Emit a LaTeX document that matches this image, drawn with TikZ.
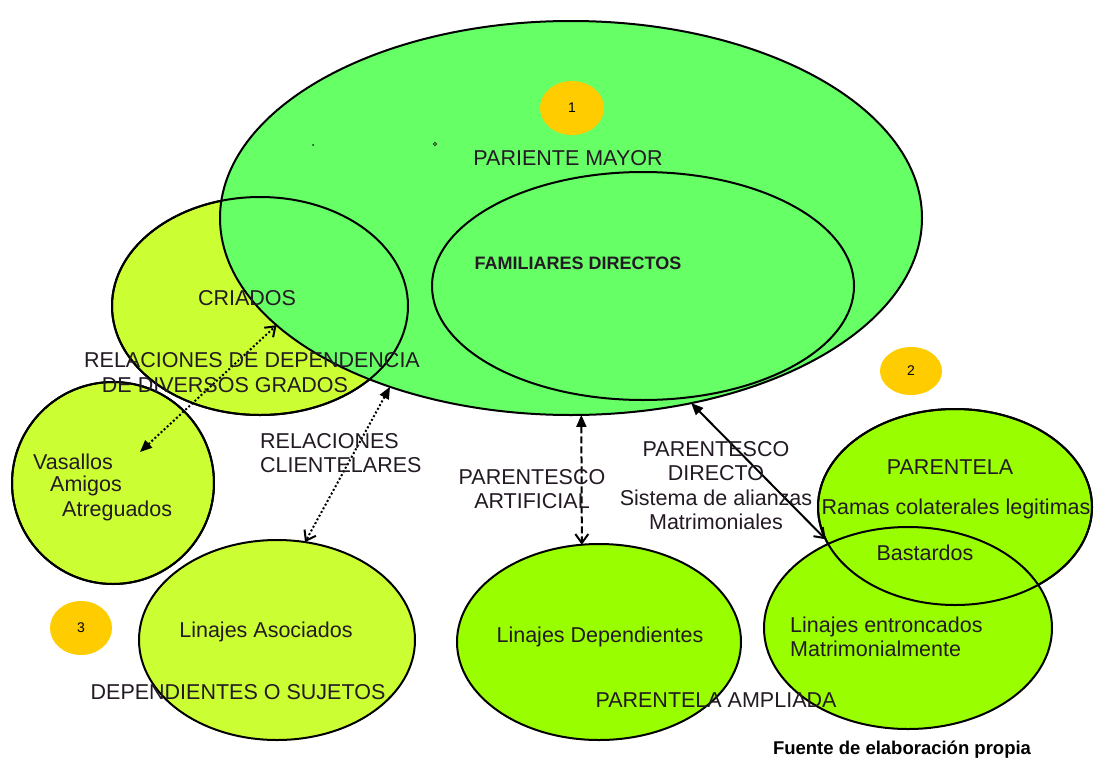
\documentclass[tikz,border=0pt]{standalone}
\usepackage{fontspec}
\setmainfont{Liberation Sans}
\usetikzlibrary{shapes.geometric,arrows.meta}
\definecolor{gbig}{HTML}{66FF66}
\definecolor{ylw}{HTML}{CCFF33}
\definecolor{lime}{HTML}{99FF00}
\definecolor{orng}{HTML}{FFCC00}
\definecolor{txt}{HTML}{231A23}
\tikzset{
  blob/.style={ellipse, draw=black, line width=2pt, inner sep=0pt, outer sep=0pt},
  outl/.style={draw=black, line width=2pt},
  lbl/.style={font=\fontsize{21.5}{24.5}\selectfont, text=txt, inner sep=0pt},
  badge/.style={ellipse, fill=orng, inner sep=0pt, font=\fontsize{14}{16}\selectfont},
  conn/.style={line width=2pt, {Triangle[length=12pt,width=10pt]}-{Straight Barb[length=9pt,width=13pt]}},
  dots/.style={dash pattern=on 2pt off 2.2pt},
  dashs/.style={dash pattern=on 7pt off 3pt}
}
\begin{document}
\begin{tikzpicture}[x=1pt,y=-1pt]
\useasboundingbox[fill=white] (0,0) rectangle (1094,760);
% shapes
\node[blob, fill=ylw, minimum width=202pt, minimum height=202pt] (vas) at (113,483) {};
\node[blob, fill=ylw, minimum width=296pt, minimum height=218pt] (cri) at (260,306) {};
\node[blob, fill=gbig, minimum width=702pt, minimum height=394pt] (pm) at (571,218) {};
\node[blob, fill=gbig, minimum width=422pt, minimum height=228pt] (fam) at (643,286) {};
\draw[outl] (cri.center) ellipse [x radius=148pt, y radius=109pt];
\draw[outl] (vas.center) circle [radius=101pt];
\node[blob, fill=ylw, minimum width=276pt, minimum height=200pt] (aso) at (277,640) {};
\node[blob, fill=lime, minimum width=284pt, minimum height=196pt] (dep) at (599,642) {};
\node[blob, fill=lime, minimum width=274pt, minimum height=196pt] (par) at (955,507) {};
\node[blob, fill=lime, minimum width=288pt, minimum height=202pt] (ent) at (908,628) {};
\draw[outl] (par.center) ellipse [x radius=137pt, y radius=98pt];
% badges
\node[badge, minimum width=64pt, minimum height=54pt] (b1) at (572,108) {1};
\node[badge, minimum width=62pt, minimum height=48pt] (b2) at (911,371) {2};
\node[badge, minimum width=62pt, minimum height=54pt] (b3) at (81,628) {3};
% stray marks
\fill[txt] (313,145) circle (1pt);
\draw[txt, line width=0.6pt] (435,144) circle (1.6pt);
% connectors
\coordinate (vasin) at (140,452);
\draw[conn, dots] (vasin) -- (pm.200.9);
\draw[conn, dots] (pm.223.5) -- (aso.74);
\draw[conn, dashs] (pm.273.1) -- (dep.100);
\draw[conn] (pm.303.3) -- (par.194);
% labels
\node[lbl] (tpm) at (568,158) {PARIENTE MAYOR};
\node[lbl, font=\bfseries\fontsize{18}{20}\selectfont] (tfam) at (578,263) {FAMILIARES DIRECTOS};
\node[lbl] (tcri) at (247,298) {CRIADOS};
\node[lbl] (trel1) at (252,360) {RELACIONES DE DEPENDENCIA};
\node[lbl] (trel2) at (225,385) {DE DIVERSOS GRADOS};
\node[lbl, anchor=west] (tv1) at (33,462) {Vasallos};
\node[lbl, anchor=west] (tv2) at (50,486) {Amigos};
\node[lbl, anchor=west] (tv3) at (62,511) {Atreguados};
\node[lbl, align=left, anchor=west] (tcli) at (260,453) {RELACIONES\\CLIENTELARES};
\node[lbl, align=center] (tart) at (532,489) {PARENTESCO\\ARTIFICIAL};
\node[lbl, align=center] (tdir) at (716,485.5) {PARENTESCO\\DIRECTO\\Sistema de alianzas\\Matrimoniales};
\node[lbl] (tpar) at (950,467) {PARENTELA};
\node[lbl] (tram) at (956,509) {Ramas colaterales legitimas};
\node[lbl] (tbas) at (925,553) {Bastardos};
\node[lbl] (taso) at (266,632) {Linajes Asociados};
\node[lbl] (tsuj) at (238,692) {DEPENDIENTES O SUJETOS};
\node[lbl] (tdep) at (600,637) {Linajes Dependientes};
\node[lbl, align=left, anchor=west] (tent) at (790,637) {Linajes entroncados\\Matrimonialmente};
\node[lbl] (tamp) at (716,700) {PARENTELA AMPLIADA};
\node[lbl, font=\bfseries\fontsize{18.5}{20}\selectfont, text=black] (tfue) at (902,750) {Fuente de elaboración propia};
\end{tikzpicture}
\end{document}
